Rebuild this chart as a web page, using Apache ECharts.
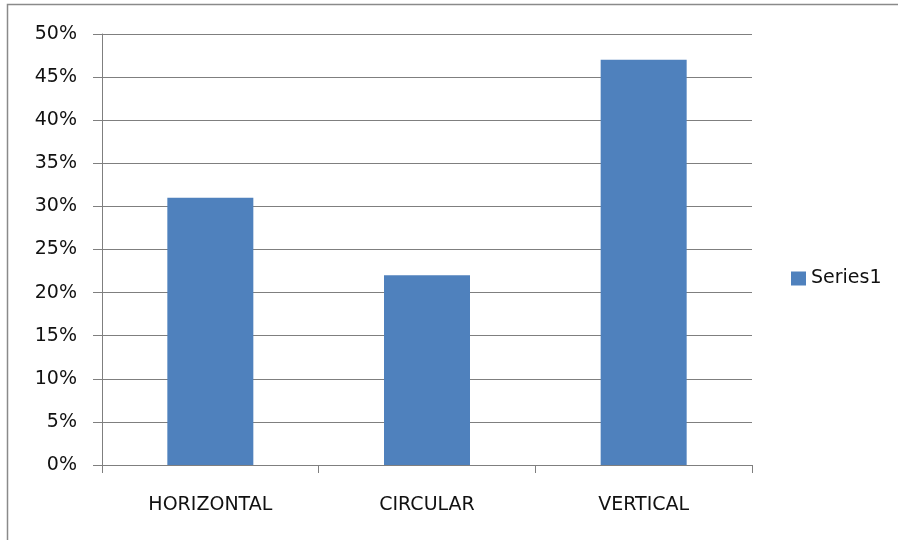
<!DOCTYPE html>
<html><head><meta charset="utf-8">
<script src="https://cdn.jsdelivr.net/npm/echarts@6/dist/echarts.min.js"></script>
<style>html,body{margin:0;padding:0;background:#fff}#c{width:898px;height:540px}</style>
</head><body><div id="c"></div>
<script>
const categories = ['HORIZONTAL', 'CIRCULAR', 'VERTICAL'];
const series1 = [0.31, 0.22, 0.47];
const seriesName = 'Series1';

const chart = echarts.init(document.getElementById('c'));
const font = 'DejaVu Sans';
chart.setOption({
  animation: false,
  backgroundColor: '#fff',
  graphic: [{
    type: 'rect', silent: true,
    shape: {x: 7.5, y: 4.5, width: 1000, height: 1000},
    style: {fill: 'none', stroke: '#8a8a8a', lineWidth: 1.5}
  }],
  grid: {left: 102, right: 146, top: 34, bottom: 75},
  legend: {
    left: 786, top: 264, orient: 'vertical',
    itemWidth: 15, itemHeight: 14, itemGap: 6,
    icon: 'rect',
    textStyle: {fontFamily: font, fontSize: 19, color: '#111'},
    data: [seriesName]
  },
  xAxis: {
    type: 'category', data: categories,
    axisLine: {lineStyle: {color: '#7f7f7f', width: 1}},
    axisTick: {show: true, length: 8, lineStyle: {color: '#7f7f7f'}},
    axisLabel: {margin: 31, fontFamily: font, fontSize: 19, color: '#111'}
  },
  yAxis: {
    type: 'value', min: 0, max: 0.5, interval: 0.05,
    axisLine: {show: true, lineStyle: {color: '#7f7f7f', width: 1}},
    axisTick: {show: true, length: 9, lineStyle: {color: '#7f7f7f'}},
    splitLine: {lineStyle: {color: '#7f7f7f', width: 1}},
    axisLabel: {margin: 25, fontFamily: font, fontSize: 19, color: '#111',
      formatter: v => Math.round(v * 100) + '%'}
  },
  series: [{
    name: seriesName, type: 'bar', data: series1,
    barWidth: 86,
    itemStyle: {color: '#4F81BD'}
  }]
});
</script></body></html>
